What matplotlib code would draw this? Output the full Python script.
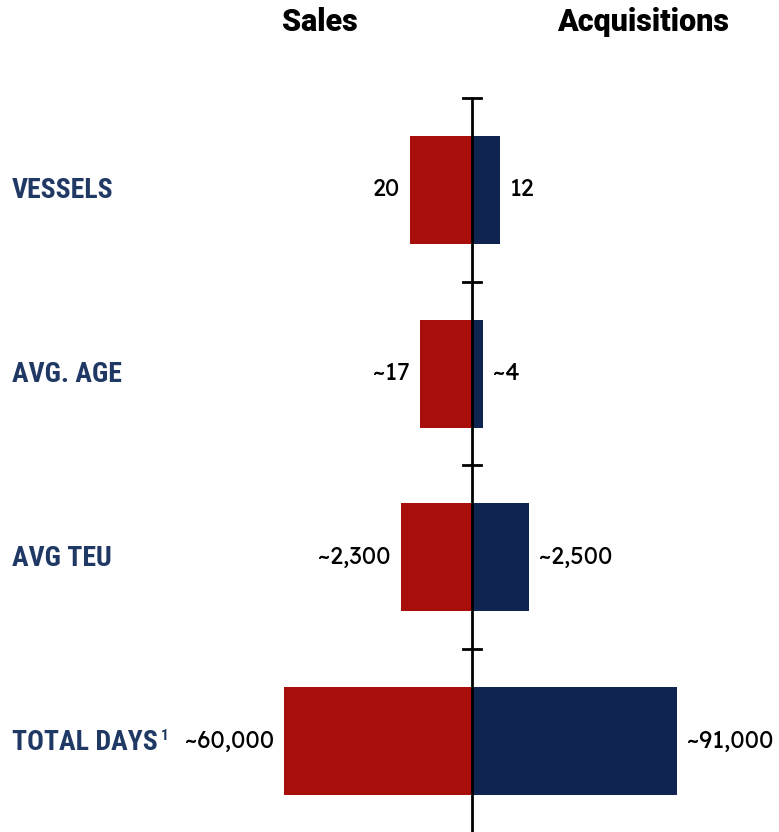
import numpy as np
import matplotlib.pyplot as plt
from matplotlib import font_manager

# rows, top to bottom
categories = ["VESSELS", "AVG. AGE", "AVG TEU", "TOTAL DAYS"]
sales_labels = ["20", "~17", "~2,300", "~60,000"]
acq_labels = ["12", "~4", "~2,500", "~91,000"]
# bar lengths as drawn (each row has its own scale)
sales_len = [62, 52, 71, 188]
acq_len = [28, 11, 57, 205]

red = "#A80F0B"
navy = "#0F2451"
label_blue = "#1F3864"

faces = {}
for f in font_manager.fontManager.ttflist:
    faces.setdefault(f.name, set()).add(f.weight)


def pick(cands, minw=0):
    for c in cands:
        if c in faces and max(faces[c]) >= minw:
            return c
    return cands[-1] if cands[-1] in faces else "DejaVu Sans"


cond = pick(["Oswald", "Roboto Condensed", "Barlow Condensed", "Archivo Narrow",
             "PT Sans Narrow", "Fjalla One"], minw=600)
numf = "Lexend" if "Lexend" in faces else "Roboto"
numw = 300 if min(faces.get(numf, {400})) <= 300 else 400
titlew = 900 if max(faces.get("Roboto", {700})) >= 900 else 700

W, H = 779, 832
fig = plt.figure(figsize=(W / 100, H / 100), dpi=100)
ax = fig.add_axes([0, 0, 1, 1])
ax.set_xlim(0, W)
ax.set_ylim(H, 0)
ax.axis("off")

x0 = 472
y_rows = 190 + 183.7 * np.arange(len(categories))
bh = 108

ax.barh(y_rows, [-v for v in sales_len], left=x0, height=bh, color=red)
ax.barh(y_rows, acq_len, left=x0, height=bh, color=navy)

# center axis with ticks
ax.plot([x0, x0], [97, H], color="black", lw=2, solid_capstyle="butt")
for yt in 98 + 183.7 * np.arange(4):
    ax.plot([x0 - 9, x0 + 9], [yt, yt], color="black", lw=2)

for y, cat, sl, al, s, a in zip(y_rows, categories, sales_labels, acq_labels,
                                sales_len, acq_len):
    ax.text(12, y + 1, cat, ha="left", va="center", fontsize=20,
            fontweight="bold", family=cond, color=label_blue)
    ax.text(x0 - s - 10, y, sl, ha="right", va="center", fontsize=17,
            family=numf, fontweight=numw, color="black")
    ax.text(x0 + a + 10, y, al, ha="left", va="center", fontsize=17,
            family=numf, fontweight=numw, color="black")

# footnote marker
ax.text(161, y_rows[-1] - 5, "1", ha="left", va="center", fontsize=11,
        fontweight="bold", family=cond, color=label_blue)

ax.text(320, 22, "Sales", ha="center", va="center", fontsize=22,
        fontweight=titlew, family="Roboto", color="black")
ax.text(643, 22, "Acquisitions", ha="center", va="center", fontsize=22,
        fontweight=titlew, family="Roboto", color="black")

fig.savefig("out.png", dpi=100)
